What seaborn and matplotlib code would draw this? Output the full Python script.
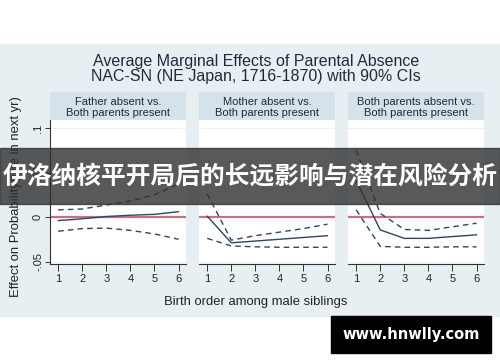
import pandas as pd
import matplotlib.pyplot as plt
import matplotlib.patches as mpatches
import seaborn as sns

sns.set_style("ticks")
plt.rcParams['font.family'] = ['Liberation Sans', 'DejaVu Sans']

# Data
birth_order = [1, 2, 3, 4, 5, 6]
panel_titles = ["Father absent vs.\nBoth parents present",
                "Mother absent vs.\nBoth parents present",
                "Both parents absent vs.\nBoth parents present"]

father_est = [-0.004, -0.002, 0.0005, 0.002, 0.003, 0.006]
father_lo = [-0.016, -0.013, -0.0125, -0.015, -0.019, -0.025]
father_hi = [0.008, 0.009, 0.0135, 0.018, 0.025, 0.037]

mother_est = [0.001, -0.029, -0.027, -0.025, -0.023, -0.021]
mother_lo = [-0.024, -0.0325, -0.0335, -0.034, -0.034, -0.034]
mother_hi = [0.026, -0.026, -0.021, -0.017, -0.013, -0.008]

both_est = [0.041, -0.0145, -0.024, -0.024, -0.022, -0.020]
both_lo = [0.008, -0.033, -0.034, -0.034, -0.0335, -0.0335]
both_hi = [0.075, 0.004, -0.014, -0.015, -0.011, -0.007]

yticks = [-0.05, 0, 0.05, 0.1]
ytick_labels = ["-.05", "0", ".05", ".1"]

panels = [(father_est, father_lo, father_hi),
          (mother_est, mother_lo, mother_hi),
          (both_est, both_lo, both_hi)]

W, H = 500, 362
fig = plt.figure(figsize=(5, 3.62), dpi=100, facecolor="white")


def rect(x0, y0, x1, y1):
    # pixel box (top-left origin) -> figure fraction rect
    return [x0 / W, 1 - y1 / H, (x1 - x0) / W, (y1 - y0) / H]


bg = "#e8eff3"
fig.patches.append(mpatches.Rectangle((0, 1 - 316 / H), 1, (316 - 44) / H,
                                      transform=fig.transFigure, color=bg, zorder=-10))

navy = "#2e4565"
text_col = "#1f2b3c"
lefts = [50, 199, 348]

for i, (est, lo, hi) in enumerate(panels):
    x0 = lefts[i]
    ax = fig.add_axes(rect(x0, 120, x0 + 136, 264))
    ax.set_facecolor("white")
    df = pd.DataFrame({
        "order": birth_order * 3,
        "value": est + lo + hi,
        "series": ["est"] * 6 + ["lo"] * 6 + ["hi"] * 6,
    })
    ax.axhline(0, color="#c96e84", lw=1.6, zorder=1)
    sns.lineplot(data=df, x="order", y="value", style="series",
                 dashes={"est": "", "lo": (4, 3), "hi": (4, 3)},
                 color=navy, lw=1.0, legend=False, errorbar=None,
                 ax=ax, zorder=3)
    ax.set_xlim(0.66, 6.31)
    ax.set_ylim(-0.0528, 0.109)
    ax.set_xticks(birth_order)
    ax.set_yticks(yticks)
    ax.yaxis.grid(True, color="#edf2f4", lw=0.8)
    ax.set_axisbelow(True)
    ax.set_xlabel("")
    ax.set_ylabel("")
    ax.tick_params(axis="x", length=5, width=0.7, color="#333333", pad=2.5,
                   labelsize=8, labelcolor="#222222")
    for s in ["top", "right"]:
        ax.spines[s].set_visible(False)
    ax.spines["bottom"].set_color("#333333")
    ax.spines["bottom"].set_linewidth(0.8)
    if i == 0:
        ax.set_yticklabels(ytick_labels, rotation=90, va="center")
        ax.tick_params(axis="y", length=3.5, width=0.7, color="#333333", pad=1.5,
                       labelsize=8, labelcolor="#222222")
        ax.spines["left"].set_color("#333333")
        ax.spines["left"].set_linewidth(0.8)
    else:
        ax.spines["left"].set_visible(False)
        ax.tick_params(axis="y", left=False, labelleft=False)

    # panel header
    hax = fig.add_axes(rect(x0, 92, x0 + 136, 119.5))
    hax.set_facecolor("#d6e2e9")
    hax.set_xticks([])
    hax.set_yticks([])
    for s in hax.spines.values():
        s.set_visible(False)
    l1, l2 = panel_titles[i].split("\n")
    fig.text((x0 + 68) / W, 1 - 105 / H, l1, ha="center", va="baseline",
             fontsize=8, color=text_col)
    fig.text((x0 + 68) / W, 1 - 115.7 / H, l2, ha="center", va="baseline",
             fontsize=8, color=text_col)

# titles and axis labels
fig.text(256 / W, 1 - 66 / H, "Average Marginal Effects of Parental Absence",
         ha="center", va="baseline", fontsize=11.5, color=text_col)
fig.text(256 / W, 1 - 80.7 / H, "NAC-SN (NE Japan, 1716-1870) with 90% CIs",
         ha="center", va="baseline", fontsize=11.5, color=text_col)
fig.text(256 / W, 1 - 305 / H, "Birth order among male siblings",
         ha="center", va="baseline", fontsize=9.4, color="#222222")
fig.text(16 / W, 1 - 196.5 / H, "Effect on Probability(Die in next yr)",
         ha="center", va="center", rotation=90, fontsize=9.4, color="#222222")

# overlay banner
fig.patches.append(mpatches.Rectangle((0, 1 - 204 / H), 1, 56 / H,
                                      transform=fig.transFigure, color="#303030",
                                      alpha=0.8, zorder=20))
fig.text(0.5, 1 - 177 / H, "伊洛纳核平开局后的长远影响与潜在风险分析",
         ha="center", va="center", fontsize=17.8, fontweight="bold",
         color="white", family=["Noto Sans CJK SC", "DejaVu Sans"], zorder=21)

# watermark box
fig.patches.append(mpatches.Rectangle((331 / W, 1 - 353 / H), 160 / W, 37 / H,
                                      transform=fig.transFigure, color="black",
                                      zorder=20))
fig.text(411 / W, 1 - 335 / H, "www.hnwlly.com", ha="center", va="center",
         fontsize=10.5, fontweight="bold", color="white",
         family=["DejaVu Sans"], zorder=21)

fig.savefig("out.png", dpi=100, facecolor="white")
